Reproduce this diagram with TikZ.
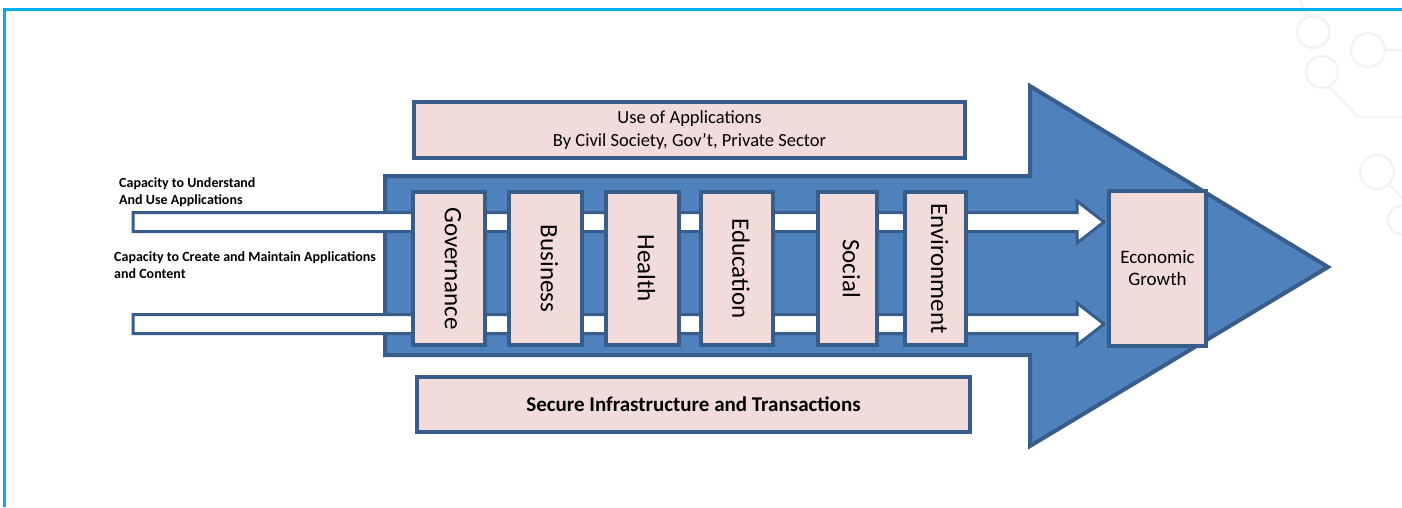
\documentclass[tikz,border=0pt]{standalone}
\usepackage{fontspec}
\setmainfont{Carlito}
\definecolor{frameblue}{HTML}{00AEEF}
\definecolor{arrowblue}{HTML}{4F81BD}
\definecolor{edgeblue}{HTML}{385D8A}
\definecolor{pinkfill}{HTML}{F2DCDB}
\definecolor{decogray}{HTML}{F3F3F3}
\tikzset{
  pinkbox/.style={draw=edgeblue, line width=4pt, fill=pinkfill, inner sep=0pt, anchor=north west},
  sector/.style={pinkbox, font=\fontsize{25}{30}\selectfont},
  sectortext/.style={rotate=-90, font=\fontsize{25}{30}\selectfont, inner sep=0pt},
  whitebar/.style={draw=edgeblue, line width=3pt, fill=white, line join=miter},
  caplabel/.style={font=\fontsize{14}{17}\bfseries\selectfont, align=left, anchor=west, inner sep=0pt},
  deco/.style={draw=decogray, line width=2.5pt}
}
\begin{document}
\begin{tikzpicture}[x=1pt,y=-1pt]
\useasboundingbox (0,0) rectangle (1402,507);
\fill[white] (0,0) rectangle (1402,507);
% faint decoration
\draw[deco] (1313,32) circle (16);
\draw[deco] (1368,50) circle (17) (1385,50) -- (1402,50);
\draw[deco] (1322,72) circle (16);
\draw[deco] (1328,86) -- (1358,117) -- (1402,117);
\draw[deco] (1377,172) circle (17);
\draw[deco] (1389,184) -- (1402,198);
\draw[deco] (1402,220) circle (14);
\draw[deco] (1300,0) -- (1307,16);
% frame
\draw[frameblue, line width=2.5pt] (4.5,507) -- (4.5,9.5) -- (1402,9.5);
% big arrow
\draw[draw=edgeblue, line width=4pt, fill=arrowblue, line join=miter]
  (385,176) -- (1030,176) -- (1030,86) -- (1328,267) -- (1030,446) -- (1030,355) -- (385,355) -- cycle;
% white bars
\draw[whitebar] (133,212.5) -- (1077,212.5) -- (1077,201) -- (1104,222) -- (1077,243) -- (1077,231.5) -- (133,231.5) -- cycle;
\draw[whitebar] (133,314.5) -- (1077,314.5) -- (1077,303) -- (1104,324) -- (1077,345) -- (1077,333.5) -- (133,333.5) -- cycle;
% top and bottom boxes
\node[pinkbox, minimum width=551pt, minimum height=56pt, font=\fontsize{18.5}{23}\selectfont, align=center] (use) at (412,100)
  {Use of Applications\\By Civil Society, Gov’t, Private Sector};
\node[pinkbox, minimum width=553pt, minimum height=55pt, font=\fontsize{21}{24}\bfseries\selectfont] (secure) at (415,375)
  {Secure Infrastructure and Transactions};
% sectors
\node[sector, minimum width=72pt, minimum height=153pt] (gov) at (411,190) {};
\node[sectortext] at ([xshift=4pt]gov.center) {Governance};
\node[sector, minimum width=73pt, minimum height=153pt] (bus) at (507,190) {};
\node[sectortext] at ([xshift=4pt]bus.center) {Business};
\node[sector, minimum width=73pt, minimum height=153pt] (hea) at (604,190) {};
\node[sectortext] at ([xshift=4pt]hea.center) {Health};
\node[sector, minimum width=72pt, minimum height=153pt] (edu) at (699,190) {};
\node[sectortext] at ([xshift=4pt]edu.center) {Education};
\node[sector, minimum width=59pt, minimum height=153pt] (soc) at (816,190) {};
\node[sectortext] at ([xshift=4pt]soc.center) {Social};
\node[sector, minimum width=61pt, minimum height=153pt] (env) at (903,190) {};
\node[sectortext] at ([xshift=4pt]env.center) {Environment};
% economic growth
\node[pinkbox, minimum width=97pt, minimum height=155pt, font=\fontsize{19}{22}\selectfont, align=center] (eco) at (1107,189)
  {Economic\\Growth};
% left labels
\node[caplabel] (cap1) at (119,192.5) {Capacity to Understand\\And Use Applications};
\node[caplabel] (cap2) at (114,265.5) {Capacity to Create and Maintain Applications\\and Content};
\end{tikzpicture}
\end{document}
